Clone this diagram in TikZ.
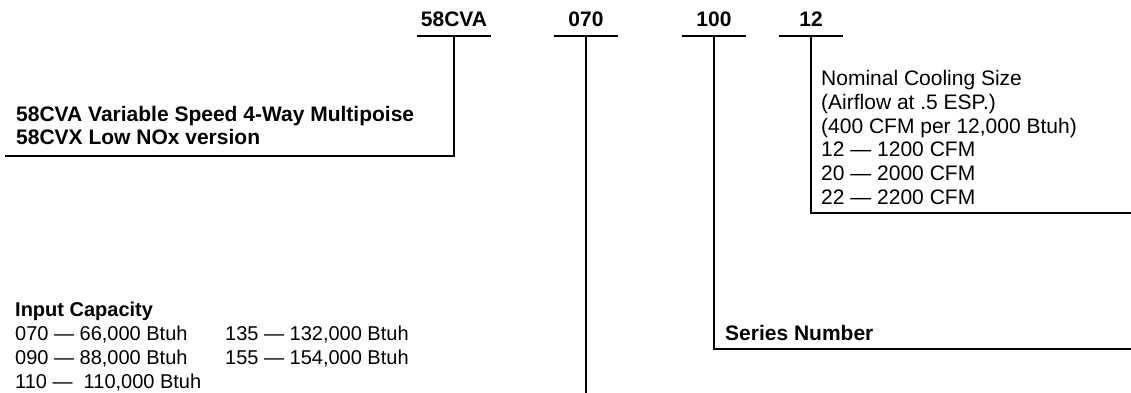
\documentclass[tikz,border=0pt]{standalone}
\usepackage{fontspec}
\setmainfont{Liberation Sans}
\usepackage{tikz}
\usetikzlibrary{positioning,calc}

\begin{document}
\begin{tikzpicture}[
    x=1pt, y=-1pt,
    code/.style={font=\fontsize{21}{23.5}\selectfont\bfseries, inner sep=0pt, minimum width=63pt, text depth=9pt, anchor=base},
    desc/.style={font=\fontsize{21}{23.8}\selectfont, inner sep=0pt, align=left, anchor=north west},
    bar/.style={line width=1.6pt}
]
\useasboundingbox (0,0) rectangle (1131,393);

% code fields
\node[code, minimum width=74pt] (model) at (454,27) {58CVA};
\node[code] (capacity) at (586,27) {070};
\node[code] (series) at (714,27) {100};
\node[code] (cooling) at (811,27) {12};

% descriptions
\node[desc, font=\fontsize{21}{23}\selectfont\bfseries] (modeltxt) at (16,106) {
    58CVA Variable Speed 4-Way Multipoise \\
    58CVX Low NOx version
};

\node[desc, font=\fontsize{20}{24}\selectfont] (capacitytxt) at (15,301.5) {
    \textbf{Input Capacity} \\
    \makebox[210pt][l]{070 — 66,000 Btuh}135 — 132,000 Btuh \\
    \makebox[210pt][l]{090 — 88,000 Btuh}155 — 154,000 Btuh \\
    110 —\ \ 110,000 Btuh
};

\node[desc, font=\fontsize{21}{23.5}\selectfont\bfseries, anchor=base west] (seriestxt) at (725,340) {Series Number};

\node[desc] (coolingtxt) at (821,70) {
    Nominal Cooling Size \\
    (Airflow at .5 ESP.) \\
    (400 CFM per 12,000 Btuh) \\
    12 — 1200 CFM \\
    20 — 2000 CFM \\
    22 — 2200 CFM
};

% line ends
\coordinate (modelend) at (5,156);
\coordinate (capacityend) at (586,393);
\coordinate (seriesend) at (1131,349);
\coordinate (coolingend) at (1131,213);

\foreach \n in {model,capacity,series,cooling}
    \draw[bar] (\n.south west) -- (\n.south east);

\draw[bar] (model.south) |- (modelend);
\draw[bar] (capacity.south) -- (capacityend);
\draw[bar] (series.south) |- (seriesend);
\draw[bar] (cooling.south) |- (coolingend);

\end{tikzpicture}
\end{document}
